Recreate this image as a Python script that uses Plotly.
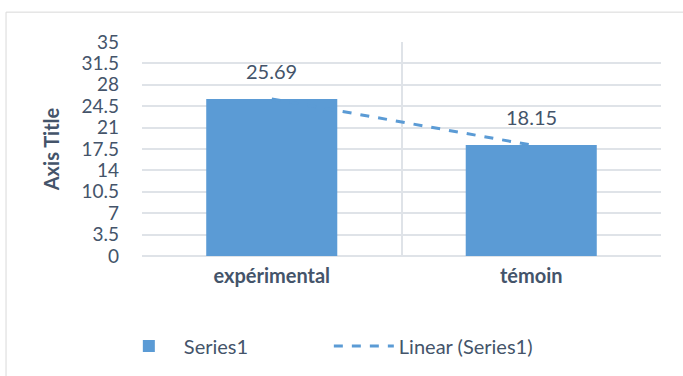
import numpy as np
import plotly.graph_objects as go

# Groups and mean scores
categories = ["expérimental", "témoin"]
values = [25.69, 18.15]
value_labels = ["25.69", "18.15"]

# Y axis ticks
y_ticks = [0, 3.5, 7, 10.5, 14, 17.5, 21, 24.5, 28, 31.5, 35]
y_tick_text = ["0", "3.5", "7", "10.5", "14", "17.5", "21", "24.5", "28", "31.5", "35"]

# Linear trend fitted over the category index
idx = np.arange(1, len(values) + 1)
slope, intercept = np.polyfit(idx, values, 1)
trend = slope * idx + intercept

BLUE = "#5B9BD5"
TEXT = "#44546A"
GRID = "#DFE3E8"
FONT = "Lato"

fig = go.Figure()
fig.add_trace(go.Bar(
    x=categories, y=values, name="Series1",
    marker=dict(color=BLUE, line=dict(width=0)),
))
fig.add_trace(go.Scatter(
    x=categories, y=trend, mode="lines", name="Linear (Series1)",
    line=dict(color=BLUE, width=3, dash="dash"),
))

for cat, v, lbl in zip(categories, values, value_labels):
    fig.add_annotation(
        x=cat, y=v, text=lbl, showarrow=False,
        yanchor="bottom", yshift=14,
        font=dict(family=FONT, size=20, color=TEXT),
    )

# Outer chart frame
fig.add_shape(
    type="rect", xref="paper", yref="paper",
    x0=-0.262, x1=1.2, y0=-0.8, y1=1.1395,
    line=dict(color="#D9D9D9", width=1), layer="below",
)

fig.update_layout(
    width=683, height=376,
    margin=dict(l=142, r=22, t=42, b=119),
    paper_bgcolor="white", plot_bgcolor="white",
    bargap=0.495,
    font=dict(family=FONT, size=20, color=TEXT),
    showlegend=True,
    legend=dict(
        orientation="h", x=0.36, xanchor="center", y=-0.414, yanchor="middle",
        font=dict(family=FONT, size=20, color=TEXT),
        itemwidth=60, tracegroupgap=0, entrywidth=140,
    ),
    xaxis=dict(
        type="category", tickson="boundaries",
        showgrid=True, gridcolor=GRID, gridwidth=2,
        showline=False, ticks="",
        tickfont=dict(family=FONT, size=20, color=TEXT, weight="bold"),
        ticklabelstandoff=6,
    ),
    yaxis=dict(
        range=[0, 35], tickvals=y_ticks, ticktext=y_tick_text,
        showgrid=True, gridcolor=GRID, gridwidth=2,
        zeroline=True, zerolinecolor=GRID, zerolinewidth=2,
        showline=False, ticks="",
        tickfont=dict(family=FONT, size=19, color=TEXT),
        ticklabelstandoff=22,
        title=dict(text="Axis Title", standoff=16,
                   font=dict(family=FONT, size=20, color=TEXT, weight="bold")),
    ),
)

fig.write_html("out.html")
